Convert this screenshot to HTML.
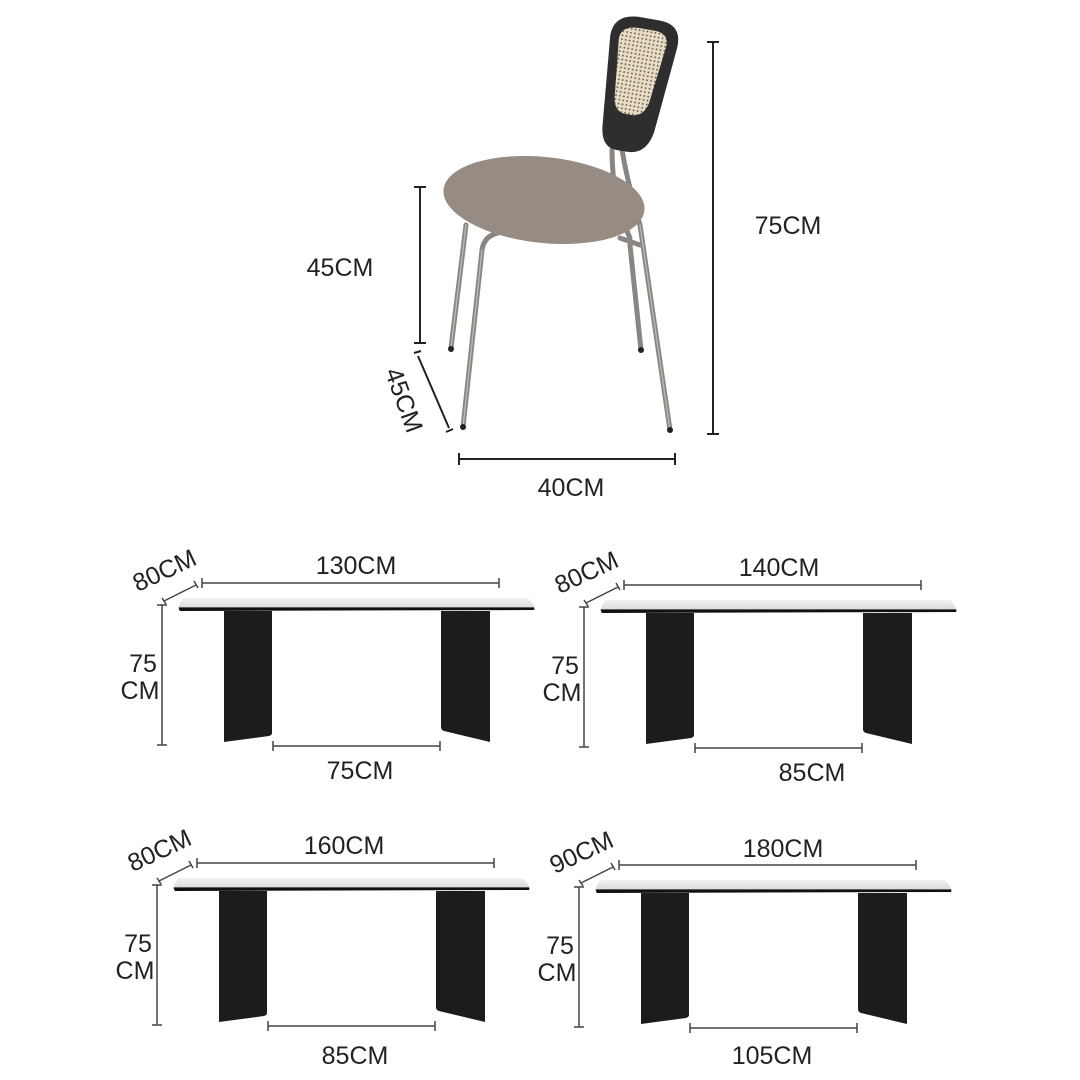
<!DOCTYPE html>
<html><head><meta charset="utf-8"><style>
html,body{margin:0;padding:0;background:#fff;}
svg{display:block;}
text{font-family:"Liberation Sans",sans-serif;fill:#222;}
</style></head><body>
<svg width="1080" height="1080" viewBox="0 0 1080 1080" xmlns="http://www.w3.org/2000/svg">
<defs>
<pattern id="rat" width="4" height="4" patternUnits="userSpaceOnUse">
<rect width="4" height="4" fill="#e8dcc4"/><circle cx="2" cy="2" r="0.9" fill="#5a5248"/>
</pattern>
<linearGradient id="top" x1="0" y1="0" x2="0" y2="1">
<stop offset="0" stop-color="#f2f2f2"/><stop offset="0.7" stop-color="#dcdcdc"/><stop offset="0.75" stop-color="#111"/><stop offset="1" stop-color="#111"/>
</linearGradient>
<g id="tbl">
<path d="M184,598 L528,598 Q536,606 534,610 L180,611 Q176,606 184,598Z" fill="url(#top)"/>
<path d="M224,611 L272,611 L272,733 Q272,735 269,736 L224,742Z" fill="#1c1c1c"/>
<path d="M441,611 L490,611 L490,742 L444,731 Q441,730 441,727Z" fill="#1c1c1c"/>
<g stroke="#444" stroke-width="1.5" fill="none">
<path d="M202,583 H499 M202,578 V588 M499,578 V588"/>
<path d="M162,605 V745 M157,605 H167 M157,745 H167"/>
<path d="M273,746 H440 M273,741 V751 M440,741 V751"/>
<path d="M164,601 L196,585 M162,598 L166,604 M194,581 L198,588"/>
</g>
</g>
</defs>

<!-- Chair -->
<g fill="none" stroke-linecap="round">
<g stroke="#8a8580" stroke-width="5">
<path d="M466,225 L451,348"/>
<path d="M630,245 L641,350"/>
<path d="M498,233 Q484,236 482,250 L463,427"/>
<path d="M640,225 L670,430"/>
<path d="M640,225 Q628,185 622,150"/>
<path d="M612,150 Q612,200 630,238"/>
<path d="M620,238 L640,245"/>
</g>
<g stroke="#b8b4ae" stroke-width="1.5">
<path d="M466,225 L451,348"/><path d="M640,225 L670,430"/><path d="M482,250 L463,427"/>
</g>
</g>
<g fill="#222"><circle cx="451" cy="349" r="3"/><circle cx="641" cy="350" r="3"/><circle cx="463" cy="427" r="3"/><circle cx="670" cy="430" r="3"/></g>
<ellipse cx="544" cy="200" rx="101" ry="43" transform="rotate(6 544 200)" fill="#968c84"/>
<g transform="rotate(10 634 85)">
<path d="M602,40 Q602,17 630,17 L648,17 Q672,17 670,42 L662,128 Q658,152 638,152 L628,152 Q612,152 610,130 Z" fill="#2e2e2e"/>
<path d="M611,42 Q611,28 630,28 L645,28 Q660,28 659,42 L652,100 Q649,115 636,115 L631,115 Q619,115 617,100 Z" fill="url(#rat)"/>
</g>

<!-- Chair dimensions -->
<g stroke="#222" stroke-width="2" fill="none">
<path d="M713,42 V434 M707,42 H719 M707,434 H719"/>
<path d="M420,187 V343 M414,187 H426 M414,343 H426"/>
<path d="M418,356 L449,428 M414,353 L421,351 M446,432 L453,429"/>
<path d="M459,459 H675 M459,453 V465 M675,453 V465"/>
</g>
<g font-size="25" text-anchor="middle">
<text x="788" y="234">75CM</text>
<text x="340" y="276">45CM</text>
<text x="571" y="496">40CM</text>
<text transform="translate(396,403) rotate(70)">45CM</text>
</g>

<!-- Tables -->
<use href="#tbl"/>
<use href="#tbl" transform="translate(422,2)"/>
<use href="#tbl" transform="translate(-5,280)"/>
<use href="#tbl" transform="translate(417,282)"/>

<g font-size="25" text-anchor="middle">
<text x="356" y="574">130CM</text>
<text x="360" y="779">75CM</text>
<text x="143" y="672">75</text><text x="140" y="699">CM</text>
<text transform="translate(168,578) rotate(-25)">80CM</text>

<text x="779" y="576">140CM</text>
<text x="812" y="781">85CM</text>
<text x="565" y="674">75</text><text x="562" y="701">CM</text>
<text transform="translate(590,580) rotate(-25)">80CM</text>

<text x="344" y="854">160CM</text>
<text x="355" y="1064">85CM</text>
<text x="138" y="952">75</text><text x="135" y="979">CM</text>
<text transform="translate(163,858) rotate(-25)">80CM</text>

<text x="783" y="857">180CM</text>
<text x="772" y="1064">105CM</text>
<text x="560" y="954">75</text><text x="557" y="981">CM</text>
<text transform="translate(585,860) rotate(-25)">90CM</text>
</g>
</svg>
</body></html>
